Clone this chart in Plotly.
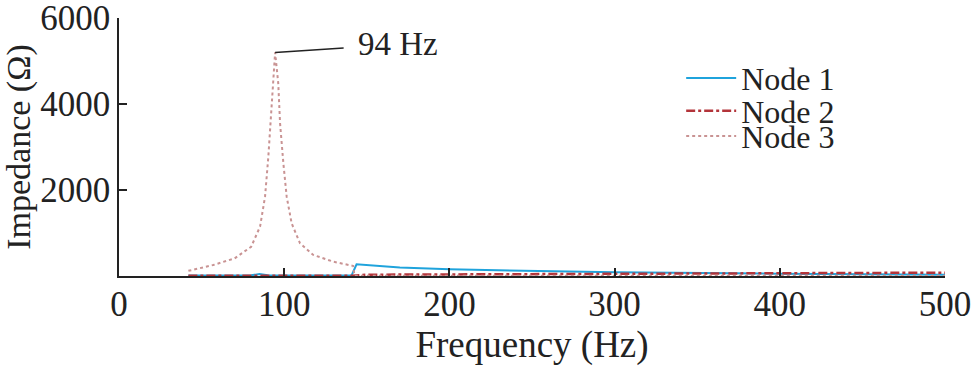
import plotly.graph_objects as go

# Node 3 (resonance around 94 Hz)
f3 = [42, 57, 70, 80, 85.4, 88.4, 90.4, 91.8, 93.4, 94.5, 96.4, 97.5, 99.5, 101.5, 104.5, 109.6, 117.6, 129.7, 141.8,
      142.5, 200, 300, 400, 500]
z3 = [120, 255, 410, 680, 1150, 1845, 2775, 3550, 4480, 5200, 4480, 3550, 2620, 1845, 1225, 760, 490, 333, 233,
      8, 8, 6, 6, 6]

# Node 1
f1 = [42, 70, 80, 85, 90, 100, 120, 140.8, 143.8, 170, 200, 250, 300, 400, 500]
z1 = [10, 10, 15, 45, 15, 12, 12, 15, 272, 200, 155, 115, 86, 54, 30]

# Node 2
f2 = [42, 100, 141, 150, 200, 300, 400, 500]
z2 = [5, 5, 8, 30, 38, 50, 65, 78]

font_family = "Liberation Serif"
ink = "#222222"

fig = go.Figure()
fig.add_trace(go.Scatter(x=f1, y=z1, mode="lines", name="Node 1", legend="legend",
                         line=dict(color="#1fa3dc", width=2)))
fig.add_trace(go.Scatter(x=f2, y=z2, mode="lines", name="Node 2", legend="legend2",
                         line=dict(color="#b3343a", width=2.5, dash="dashdot")))
fig.add_trace(go.Scatter(x=f3, y=z3, mode="lines", name="Node 3", legend="legend3",
                         line=dict(color="#c99393", width=2, dash="3px,3px")))

fig.add_annotation(x=94.5, y=5200, xref="x", yref="y", text="94 Hz",
                   showarrow=True, arrowhead=0, arrowwidth=1.5, arrowcolor=ink,
                   ax=123, ay=-8, startstandoff=13,
                   font=dict(family=font_family, size=33, color=ink),
                   xanchor="center", yanchor="middle")

leg = dict(xanchor="left", yanchor="middle", bgcolor="rgba(0,0,0,0)",
           font=dict(family=font_family, size=32, color=ink), itemwidth=50,
           borderwidth=0)

fig.update_layout(
    width=975, height=368,
    margin=dict(l=119, r=30, t=18, b=92, autoexpand=False),
    paper_bgcolor="white", plot_bgcolor="white",
    font=dict(family=font_family, size=35, color=ink),
    showlegend=True,
    legend=dict(x=0.6806, y=0.767, **leg),
    legend2=dict(x=0.6806, y=0.64, **leg),
    legend3=dict(x=0.6806, y=0.542, **leg),
    xaxis=dict(range=[0, 500], tickvals=[0, 100, 200, 300, 400, 500],
               ticks="inside", ticklen=8, tickwidth=1.5, tickcolor=ink,
               showline=True, linecolor=ink, linewidth=1.5, showgrid=False, zeroline=False,
               tickfont=dict(size=35), ticklabelstandoff=-4, ticklabeloverflow="allow",
               automargin=False,
               title=dict(text="Frequency (Hz)", font=dict(size=37), standoff=0)),
    yaxis=dict(range=[0, 6000], tickvals=[2000, 4000, 6000],
               ticks="inside", ticklen=8, tickwidth=1.5, tickcolor=ink,
               showline=True, linecolor=ink, linewidth=1.5, showgrid=False, zeroline=False,
               tickfont=dict(size=35), ticklabeloverflow="allow",
               automargin=False,
               title=dict(text="Impedance (Ω)", font=dict(size=34), standoff=0)),
)

fig.write_html("out.html",
               config=dict(displayModeBar=False),
               post_script="document.body.style.margin='0';document.body.style.overflow='hidden';")
